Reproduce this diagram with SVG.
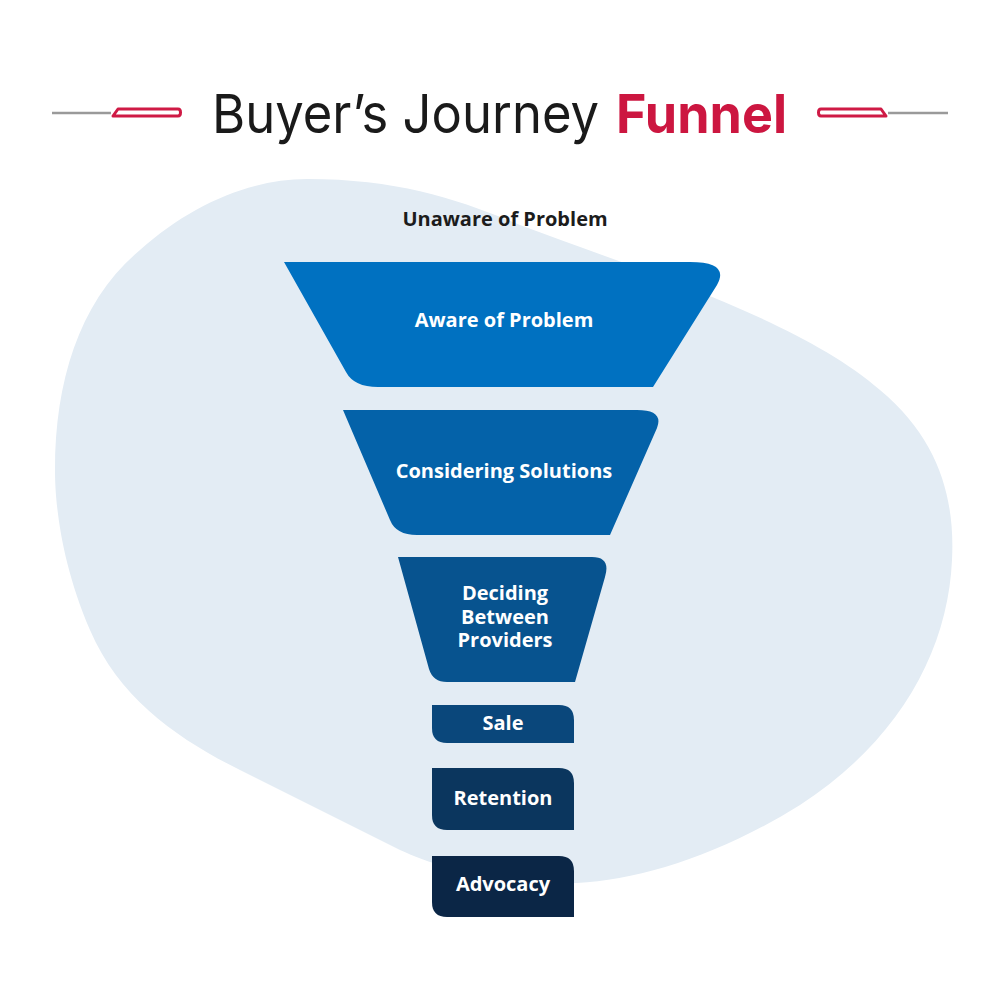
<svg xmlns="http://www.w3.org/2000/svg" width="1000" height="1000" viewBox="0 0 1000 1000">
  <style>
    .lbl { font-family: "Open Sans", "Noto Sans", sans-serif; font-weight: 700; font-size: 20px; fill: #ffffff; text-anchor: middle; }
    .dark { fill: #1c1c1c; }
    .title { font-family: Inter, "Noto Sans", sans-serif; font-size: 54px; }
    .deco { fill: #ffffff; stroke: #cf1a45; stroke-width: 3; stroke-linejoin: round; }
    .gray { stroke: #9a9a9a; stroke-width: 2.5; }
  </style>
  <rect x="0" y="0" width="1000" height="1000" fill="#ffffff"/>

  <g id="background-blob">
    <path d="M 307,179 C 400,179 460,200 520,225 C 640,270 800,320 880,390 C 940,440 955,500 952,560 C 948,650 900,740 800,805 C 720,855 640,880 577,883 C 500,886 440,868 400,850 L 240,770 C 180,740 120,700 90,630 C 60,560 55,500 55,470 C 55,380 80,300 140,250 C 190,205 250,179 307,179 Z" fill="#e3ecf4"/>
  </g>

  <g id="title">
    <line class="gray" x1="52" y1="113" x2="111" y2="113"/>
    <path class="deco" d="M 118,109 L 178,109 Q 180.5,109 180.5,112.5 Q 180.5,116 178,116 L 113,116 Z"/>
    <line class="gray" x1="888" y1="113" x2="948" y2="113"/>
    <path class="deco" d="M 881,109 L 821,109 Q 818.5,109 818.5,112.5 Q 818.5,116 821,116 L 886,116 Z"/>
    <text class="title" x="212" y="133" fill="#1a1a1a" font-weight="400" textLength="387" lengthAdjust="spacingAndGlyphs">Buyer’s Journey</text>
    <text class="title" x="616" y="133" fill="#cc1640" font-weight="700" textLength="171" lengthAdjust="spacingAndGlyphs">Funnel</text>
  </g>

  <g id="unaware">
    <text class="lbl dark" x="505" y="226">Unaware of Problem</text>
  </g>

  <g id="aware">
    <path d="M 284,262 L 690,262 Q 730,262 717,285 L 653,387 L 378,387 Q 354,387 346,372 Z" fill="#0071c1"/>
    <text class="lbl" x="504" y="327">Aware of Problem</text>
  </g>

  <g id="considering">
    <path d="M 343,410 L 637,410 Q 664,410 657,428 L 610,535 L 417,535 Q 396,535 390,520 Z" fill="#0462a9"/>
    <text class="lbl" x="504" y="478">Considering Solutions</text>
  </g>

  <g id="deciding">
    <path d="M 398,557 L 592,557 Q 611,557 605,577 L 575,682 L 447,682 Q 433,682 429,669 Z" fill="#07538f"/>
    <text class="lbl" x="505" y="600">Deciding<tspan x="505" dy="24">Between</tspan><tspan x="505" dy="23">Providers</tspan></text>
  </g>

  <g id="sale">
    <path d="M 432,705 L 559,705 Q 574,705 574,720 L 574,743 L 447,743 Q 432,743 432,728 Z" fill="#0a477b"/>
    <text class="lbl" x="503" y="730">Sale</text>
  </g>

  <g id="retention">
    <path d="M 432,768 L 559,768 Q 574,768 574,783 L 574,830 L 447,830 Q 432,830 432,815 Z" fill="#0b365e"/>
    <text class="lbl" x="503" y="805">Retention</text>
  </g>

  <g id="advocacy">
    <path d="M 432,856 L 559,856 Q 574,856 574,871 L 574,917 L 447,917 Q 432,917 432,902 Z" fill="#0b2646"/>
    <text class="lbl" x="503" y="891">Advocacy</text>
  </g>

  <g id="connectors"></g>
</svg>
